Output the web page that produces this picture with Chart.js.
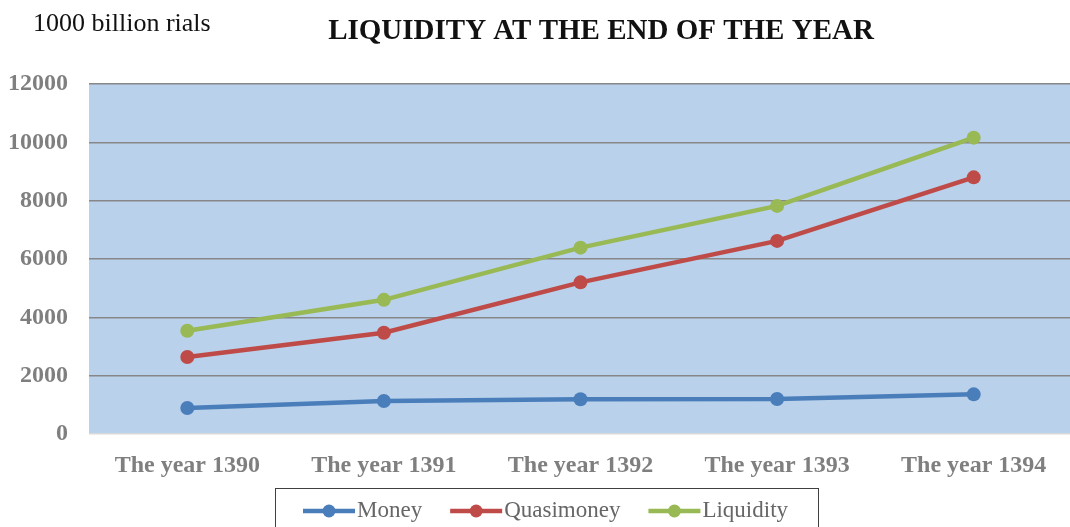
<!DOCTYPE html>
<html>
<head>
<meta charset="utf-8">
<script src="https://cdn.jsdelivr.net/npm/chart.js@4"></script>
<style>
  html, body { margin: 0; padding: 0; background: #fff; overflow: hidden; }
  #wrap { position: relative; width: 1079px; height: 527px; }
</style>
</head>
<body>
<div id="wrap"><canvas id="liqChart"></canvas></div>
<script>
// ─── data ─────────────────────────────────────────────
const years = ['The year 1390', 'The year 1391', 'The year 1392', 'The year 1393', 'The year 1394'];
const money = [890, 1130, 1190, 1200, 1360];
const quasimoney = [2640, 3470, 5200, 6620, 8800];
const liquidity = [3540, 4600, 6390, 7820, 10160];
const yTicks = [0, 2000, 4000, 6000, 8000, 10000, 12000];

const SERIF = '"Liberation Serif", "Times New Roman", serif';

// plot background + headings + framed legend
const decor = {
  id: 'decor',
  beforeDraw(chart) {
    const { ctx, chartArea: a } = chart;
    ctx.save();
    ctx.fillStyle = '#b9d1ea';
    ctx.fillRect(a.left, a.top, a.right - a.left, a.bottom - a.top);
    ctx.restore();
  },
  afterDraw(chart) {
    const ctx = chart.ctx;
    ctx.save();
    ctx.textBaseline = 'middle';
    ctx.fillStyle = '#111';
    ctx.font = '26px ' + SERIF;
    ctx.textAlign = 'left';
    ctx.fillText('1000 billion rials', 33, 24);
    ctx.font = 'bold 29px ' + SERIF;
    ctx.textAlign = 'center';
    ctx.fillText('LIQUIDITY AT THE END OF THE YEAR', 601, 32);

    // legend
    ctx.strokeStyle = '#404040';
    ctx.lineWidth = 1;
    ctx.strokeRect(275.5, 488.5, 543, 60);
    ctx.font = '23px ' + SERIF;
    ctx.textAlign = 'left';
    let x = 303;
    const y = 511;
    chart.data.datasets.forEach(ds => {
      ctx.strokeStyle = ds.borderColor;
      ctx.lineWidth = 4.5;
      ctx.beginPath(); ctx.moveTo(x, y); ctx.lineTo(x + 52, y); ctx.stroke();
      ctx.fillStyle = ds.borderColor;
      ctx.beginPath(); ctx.arc(x + 26, y, 6.5, 0, Math.PI * 2); ctx.fill();
      ctx.fillStyle = '#666';
      ctx.fillText(ds.label, x + 54, y);
      x += 54 + ctx.measureText(ds.label).width + 28;
    });
    ctx.restore();
  }
};

function series(label, data, color) {
  return {
    label, data,
    borderColor: color, backgroundColor: color,
    borderWidth: 4.5, pointRadius: 7, pointHoverRadius: 7,
    pointBackgroundColor: color, pointBorderWidth: 0,
    tension: 0
  };
}

new Chart(document.getElementById('liqChart'), {
  type: 'line',
  data: {
    labels: years,
    datasets: [
      series('Money', money, '#4a7ebb'),
      series('Quasimoney', quasimoney, '#be4b48'),
      series('Liquidity', liquidity, '#98b954')
    ]
  },
  options: {
    responsive: true,
    maintainAspectRatio: false,
    animation: false,
    layout: { padding: { top: 84, bottom: 43, left: 0, right: 0 } },
    plugins: { legend: { display: false }, tooltip: { enabled: false } },
    scales: {
      x: {
        offset: true,
        grid: { display: false, drawTicks: false },
        border: { display: false },
        ticks: { color: '#7f7f7f', padding: 17, maxRotation: 0, font: { family: SERIF, size: 24, weight: 'bold' } },
        afterFit: s => { s.height = 50; }
      },
      y: {
        min: 0, max: 12000,
        afterBuildTicks: s => { s.ticks = yTicks.map(v => ({ value: v })); },
        grid: {
          drawTicks: false,
          lineWidth: 1.5,
          color: c => c.tick && c.tick.value === 0 ? '#d9d9d9' : '#878787'
        },
        border: { display: false },
        ticks: {
          color: '#7f7f7f', padding: 21,
          font: { family: SERIF, size: 24, weight: 'bold' },
          callback: v => String(v)
        },
        afterFit: s => { s.width = 89; }
      }
    }
  },
  plugins: [decor]
});
</script>
</body>
</html>
